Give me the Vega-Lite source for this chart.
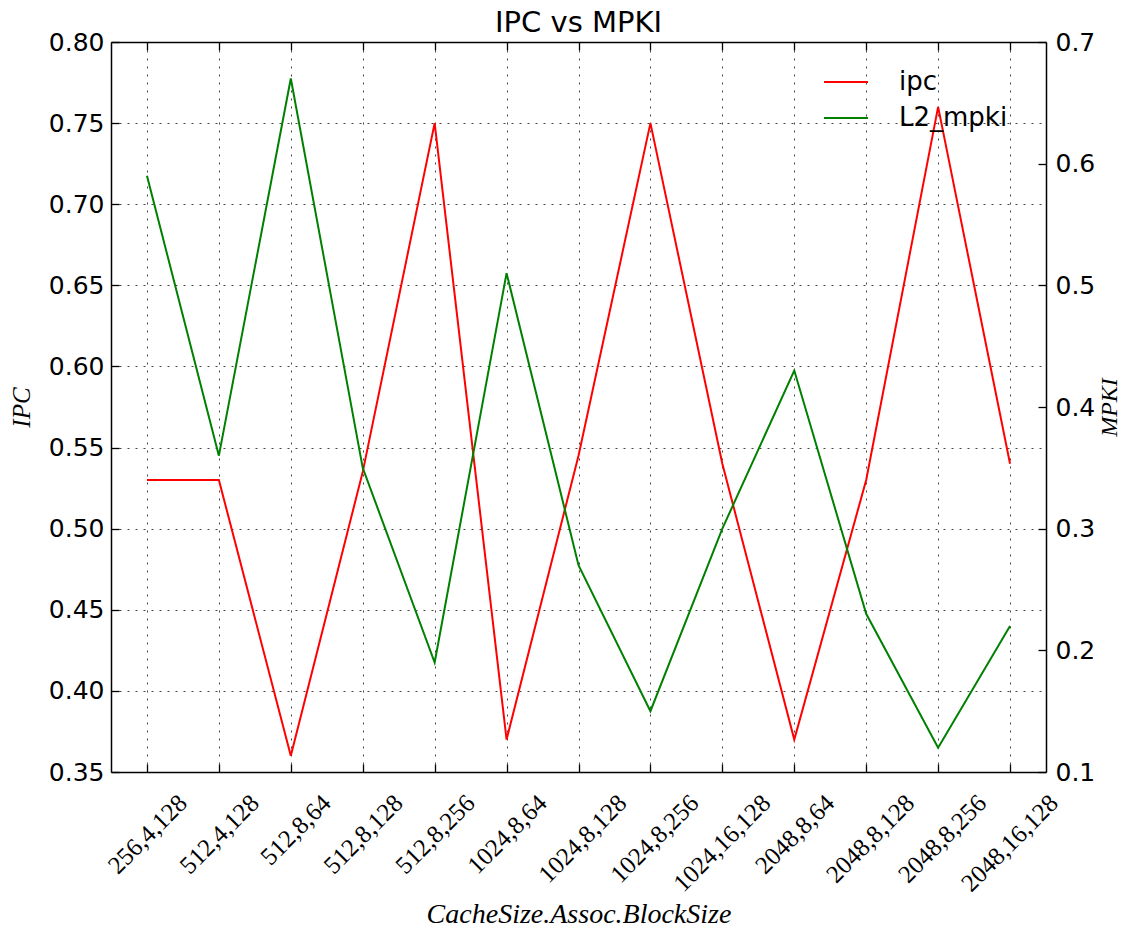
{
  "$schema": "https://vega.github.io/schema/vega-lite/v6.json",
  "width": 935,
  "height": 730,
  "autosize": "none",
  "padding": {"left": 111, "top": 42, "right": 80, "bottom": 161},
  "background": "white",
  "title": {"text": "IPC vs MPKI", "font": "DejaVu Sans", "fontSize": 29, "fontWeight": "normal", "color": "black", "offset": -8, "anchor": "middle"},
  "data": {"values": [
    {"config": "256,4,128", "ipc": 0.53, "mpki": 0.59},
    {"config": "512,4,128", "ipc": 0.53, "mpki": 0.36},
    {"config": "512,8,64", "ipc": 0.36, "mpki": 0.67},
    {"config": "512,8,128", "ipc": 0.535, "mpki": 0.35},
    {"config": "512,8,256", "ipc": 0.75, "mpki": 0.19},
    {"config": "1024,8,64", "ipc": 0.37, "mpki": 0.51},
    {"config": "1024,8,128", "ipc": 0.545, "mpki": 0.27},
    {"config": "1024,8,256", "ipc": 0.75, "mpki": 0.15},
    {"config": "1024,16,128", "ipc": 0.54, "mpki": 0.30},
    {"config": "2048,8,64", "ipc": 0.37, "mpki": 0.43},
    {"config": "2048,8,128", "ipc": 0.53, "mpki": 0.23},
    {"config": "2048,8,256", "ipc": 0.76, "mpki": 0.12},
    {"config": "2048,16,128", "ipc": 0.54, "mpki": 0.22}
  ]},
  "layer": [
    {
      "mark": {"type": "line", "strokeWidth": 2},
      "encoding": {
        "x": {"field": "config", "type": "ordinal", "sort": null,
          "scale": {"type": "point", "padding": 0.5},
          "axis": {"orient": "bottom", "title": "CacheSize.Assoc.BlockSize",
            "titleFont": "Liberation Serif", "titleFontStyle": "italic", "titleFontWeight": "normal", "titleFontSize": 28, "titleColor": "black", "titlePadding": 4,
            "labelAngle": -45, "labelAlign": "right", "labelBaseline": "top",
            "labelFont": "Liberation Serif", "labelFontSize": 25, "labelColor": "black",
            "labelOffset": {"condition": {"test": "length(datum.label) >= 10", "value": 35}, "value": 27},
            "labelPadding": 26, "labelOverlap": false, "labelBound": false,
            "tickSize": -8, "tickColor": "black", "tickWidth": 1.3,
            "domainColor": "black", "domainWidth": 1.5,
            "grid": true, "gridDash": [2, 6], "gridColor": "#444", "gridWidth": 1}
        },
        "y": {"field": "ipc", "type": "quantitative",
          "scale": {"domain": [0.35, 0.8], "nice": false, "zero": false},
          "axis": {"orient": "left", "title": "IPC",
            "titleFont": "Liberation Serif", "titleFontStyle": "italic", "titleFontWeight": "normal", "titleFontSize": 25, "titleColor": "black", "titlePadding": 14,
            "values": [0.35, 0.4, 0.45, 0.5, 0.55, 0.6, 0.65, 0.7, 0.75, 0.8], "format": ".2f",
            "labelFont": "DejaVu Sans", "labelFontSize": 25, "labelColor": "black", "labelPadding": 15,
            "tickSize": -8, "tickColor": "black", "tickWidth": 1.3,
            "domainColor": "black", "domainWidth": 1.5,
            "grid": true, "gridDash": [2, 6], "gridColor": "#444", "gridWidth": 1}
        },
        "color": {"datum": "ipc", "type": "nominal",
          "scale": {"domain": ["ipc", "L2_mpki"], "range": ["#ff0000", "#008000"]},
          "legend": {"orient": "none", "legendX": 712, "legendY": 17, "title": null, "padding": 0,
            "symbolType": "stroke", "symbolSize": 1936, "symbolStrokeWidth": 2,
            "labelFont": "DejaVu Sans", "labelFontSize": 26, "labelColor": "black", "labelOffset": 30, "rowPadding": 0}
        }
      }
    },
    {
      "mark": {"type": "line", "strokeWidth": 2},
      "encoding": {
        "x": {"field": "config", "type": "ordinal", "sort": null,
          "scale": {"type": "point", "padding": 0.5},
          "axis": {"orient": "top", "title": null, "labels": false,
            "tickSize": -8, "tickColor": "black", "tickWidth": 1.3,
            "domainColor": "black", "domainWidth": 1.5, "grid": false}
        },
        "y": {"field": "mpki", "type": "quantitative",
          "scale": {"domain": [0.1, 0.7], "nice": false, "zero": false},
          "axis": {"orient": "right", "title": "MPKI", "titleAngle": -90, "titleBaseline": "top",
            "titleFont": "Liberation Serif", "titleFontStyle": "italic", "titleFontWeight": "normal", "titleFontSize": 24, "titleColor": "black", "titlePadding": 3,
            "values": [0.1, 0.2, 0.3, 0.4, 0.5, 0.6, 0.7], "format": ".1f",
            "labelFont": "DejaVu Sans", "labelFontSize": 25, "labelColor": "black", "labelPadding": 17,
            "tickSize": -8, "tickColor": "black", "tickWidth": 1.3,
            "domainColor": "black", "domainWidth": 1.5, "grid": false}
        },
        "color": {"datum": "L2_mpki", "type": "nominal"}
      }
    }
  ],
  "resolve": {"scale": {"y": "independent"}, "axis": {"x": "independent", "y": "independent"}},
  "config": {"view": {"stroke": null}}
}
